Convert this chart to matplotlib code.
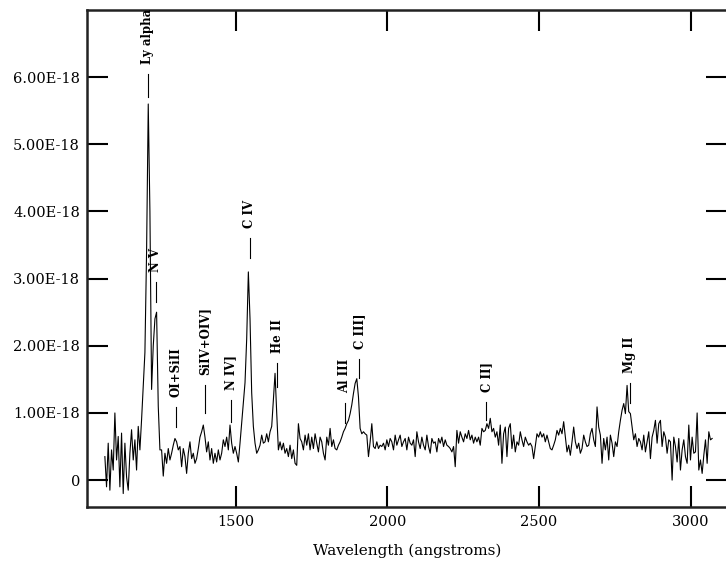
import numpy as np
import matplotlib
matplotlib.use("Agg")
from matplotlib import pyplot as plt
from matplotlib.ticker import FuncFormatter

# spectrum: start wavelength, sampling step (angstroms) and flux in units of 1e-18
wave_start = 1069.0
wave_step = 5.5
flux = [
    0.35, -0.10, 0.55, -0.15, 0.45, 0.15, 1.00, 0.30, 0.65, -0.10,
    0.70, -0.20, 0.55, 0.05, -0.15, 0.40, 0.75, 0.30, 0.60, 0.15,
    0.80, 0.45, 0.90,
    # Ly alpha / N V
    1.40, 1.90, 3.40, 5.60, 4.00, 1.35, 2.00, 2.40, 2.50, 1.10,
    0.45, 0.45, 0.06, 0.40, 0.25, 0.47, 0.30, 0.40, 0.52, 0.62,
    0.57, 0.45, 0.50, 0.20, 0.47, 0.35, 0.10, 0.40, 0.57, 0.32,
    0.40, 0.25, 0.32, 0.47, 0.64, 0.72, 0.82, 0.64, 0.42, 0.57,
    0.30, 0.47, 0.25, 0.40, 0.27, 0.45, 0.30, 0.40, 0.60, 0.50,
    0.64, 0.45, 0.82, 0.55, 0.40, 0.50, 0.40, 0.27, 0.55, 0.85,
    # C IV
    1.15, 1.45, 2.10, 3.10, 2.40, 1.30, 0.80, 0.55,
    0.40, 0.45, 0.52, 0.67, 0.55, 0.57, 0.69, 0.57, 0.72, 0.80,
    1.20, 1.59, 1.00, 0.45, 0.57, 0.45, 0.55, 0.40, 0.47, 0.35,
    0.52, 0.32, 0.45, 0.25, 0.22, 0.84,
    0.62, 0.57, 0.45, 0.67, 0.52, 0.69, 0.45, 0.64, 0.47, 0.69,
    0.55, 0.42, 0.64, 0.57, 0.40, 0.30, 0.64, 0.52, 0.77, 0.50,
    0.60, 0.47, 0.45, 0.52, 0.57, 0.64, 0.72, 0.77, 0.84, 0.89,
    # C III]
    0.99, 1.12, 1.29, 1.44, 1.51, 1.24, 0.77, 0.69, 0.72, 0.69,
    0.67, 0.35, 0.57, 0.84, 0.50, 0.47, 0.57, 0.47, 0.52, 0.50,
    0.55, 0.45, 0.60, 0.50, 0.62, 0.57, 0.45, 0.67, 0.52, 0.60,
    0.67, 0.50, 0.57, 0.62, 0.45, 0.64, 0.55, 0.52, 0.60, 0.35,
    0.72, 0.57, 0.47, 0.64, 0.52, 0.45, 0.67, 0.50, 0.40, 0.62,
    0.55, 0.57, 0.42, 0.62, 0.55, 0.64, 0.50, 0.60, 0.52, 0.50,
    0.47, 0.42, 0.50, 0.20, 0.74, 0.55, 0.72, 0.64, 0.57, 0.69,
    0.62, 0.74, 0.60, 0.67, 0.55, 0.64, 0.57, 0.64, 0.52, 0.77,
    # C II]
    0.72, 0.74, 0.84, 0.77, 0.92, 0.72, 0.77, 0.64, 0.72, 0.52,
    0.82, 0.25, 0.69, 0.79, 0.35, 0.77, 0.84,
    0.47, 0.67, 0.42, 0.57, 0.52, 0.72, 0.60, 0.50, 0.64, 0.57,
    0.52, 0.55, 0.50, 0.32, 0.50, 0.69, 0.64, 0.72, 0.64, 0.69,
    0.57, 0.67, 0.57, 0.47, 0.45, 0.52, 0.60, 0.74, 0.67, 0.77,
    0.69, 0.87, 0.64, 0.42, 0.52, 0.37, 0.57, 0.79, 0.57, 0.47,
    0.55, 0.40, 0.47, 0.67, 0.57, 0.50, 0.52, 0.69, 0.77, 0.60,
    0.50, 1.09, 0.79, 0.67, 0.25, 0.62, 0.45, 0.64, 0.30, 0.67,
    0.55, 0.35, 0.57, 0.50, 0.72,
    # Mg II
    0.89, 1.04, 1.14, 0.99, 1.41, 1.02, 0.99, 0.79, 0.60, 0.69,
    0.50, 0.62, 0.57, 0.45, 0.67, 0.42, 0.57, 0.72, 0.32, 0.64,
    0.74, 0.89, 0.55, 0.84, 0.89, 0.50, 0.72, 0.64, 0.40, 0.60,
    0.57, 0.00, 0.64, 0.50, 0.27, 0.62, 0.15, 0.45, 0.60, 0.35,
    0.25, 0.82, 0.30, 0.64, 0.40, 0.42, 1.00, 0.15, 0.30, 0.10,
    0.37, 0.60, 0.25, 0.72, 0.60, 0.62,
]

# emission line identifications
line_names = ["Ly alpha", "N V", "OI+SiII", "SiIV+OIV]", "N IV]", "C IV",
              "He II", "Al III", "C III]", "C II]", "Mg II"]
line_waves = [1211, 1237, 1303, 1398, 1484, 1546, 1638, 1859, 1908, 2326, 2799]
mark_top = [6.04, 2.95, 1.09, 1.41, 1.19, 3.60, 1.74, 1.15, 1.80, 1.16, 1.44]
mark_bottom = [5.70, 2.65, 0.79, 1.00, 0.86, 3.30, 1.38, 0.85, 1.52, 0.89, 1.15]

scale = 1e-18
wave = wave_start + wave_step * np.arange(len(flux))
flux = np.array(flux) * scale

fig = plt.figure(figsize=(7.26, 5.63), dpi=100)
ax = fig.add_axes([0.1198, 0.0995, 0.8816, 0.8828])

ax.plot(wave, flux, color="black", lw=0.8)

for name, w, top, bot in zip(line_names, line_waves, mark_top, mark_bottom):
    ax.plot([w, w], [bot * scale, top * scale], color="black", lw=0.8)
    ax.text(w, (top + 0.15) * scale, name, rotation=90, ha="center", va="bottom",
            family="DejaVu Serif", fontweight="bold", fontsize=8.5)

ax.set_xlim(1010, 3120)
ax.set_ylim(-0.4e-18, 7.0e-18)
ax.set_xticks([1500, 2000, 2500, 3000])
ax.set_yticks([i * scale for i in range(7)])


def yfmt(v, pos):
    if abs(v) < 1e-30:
        return "0"
    return "%.2E" % v


ax.yaxis.set_major_formatter(FuncFormatter(yfmt))
ax.tick_params(direction="in", length=15, width=1.5, top=True, right=True,
               labelsize=10.5, pad=5)
for lab in ax.get_xticklabels() + ax.get_yticklabels():
    lab.set_family("DejaVu Serif")
ax.tick_params(axis="x", pad=6)

for sp in ax.spines.values():
    sp.set_linewidth(1.8)
    sp.set_color("#222222")

ax.set_xlabel("Wavelength (angstroms)", family="DejaVu Serif", fontsize=11, labelpad=10)

fig.savefig("out.png", dpi=100)
